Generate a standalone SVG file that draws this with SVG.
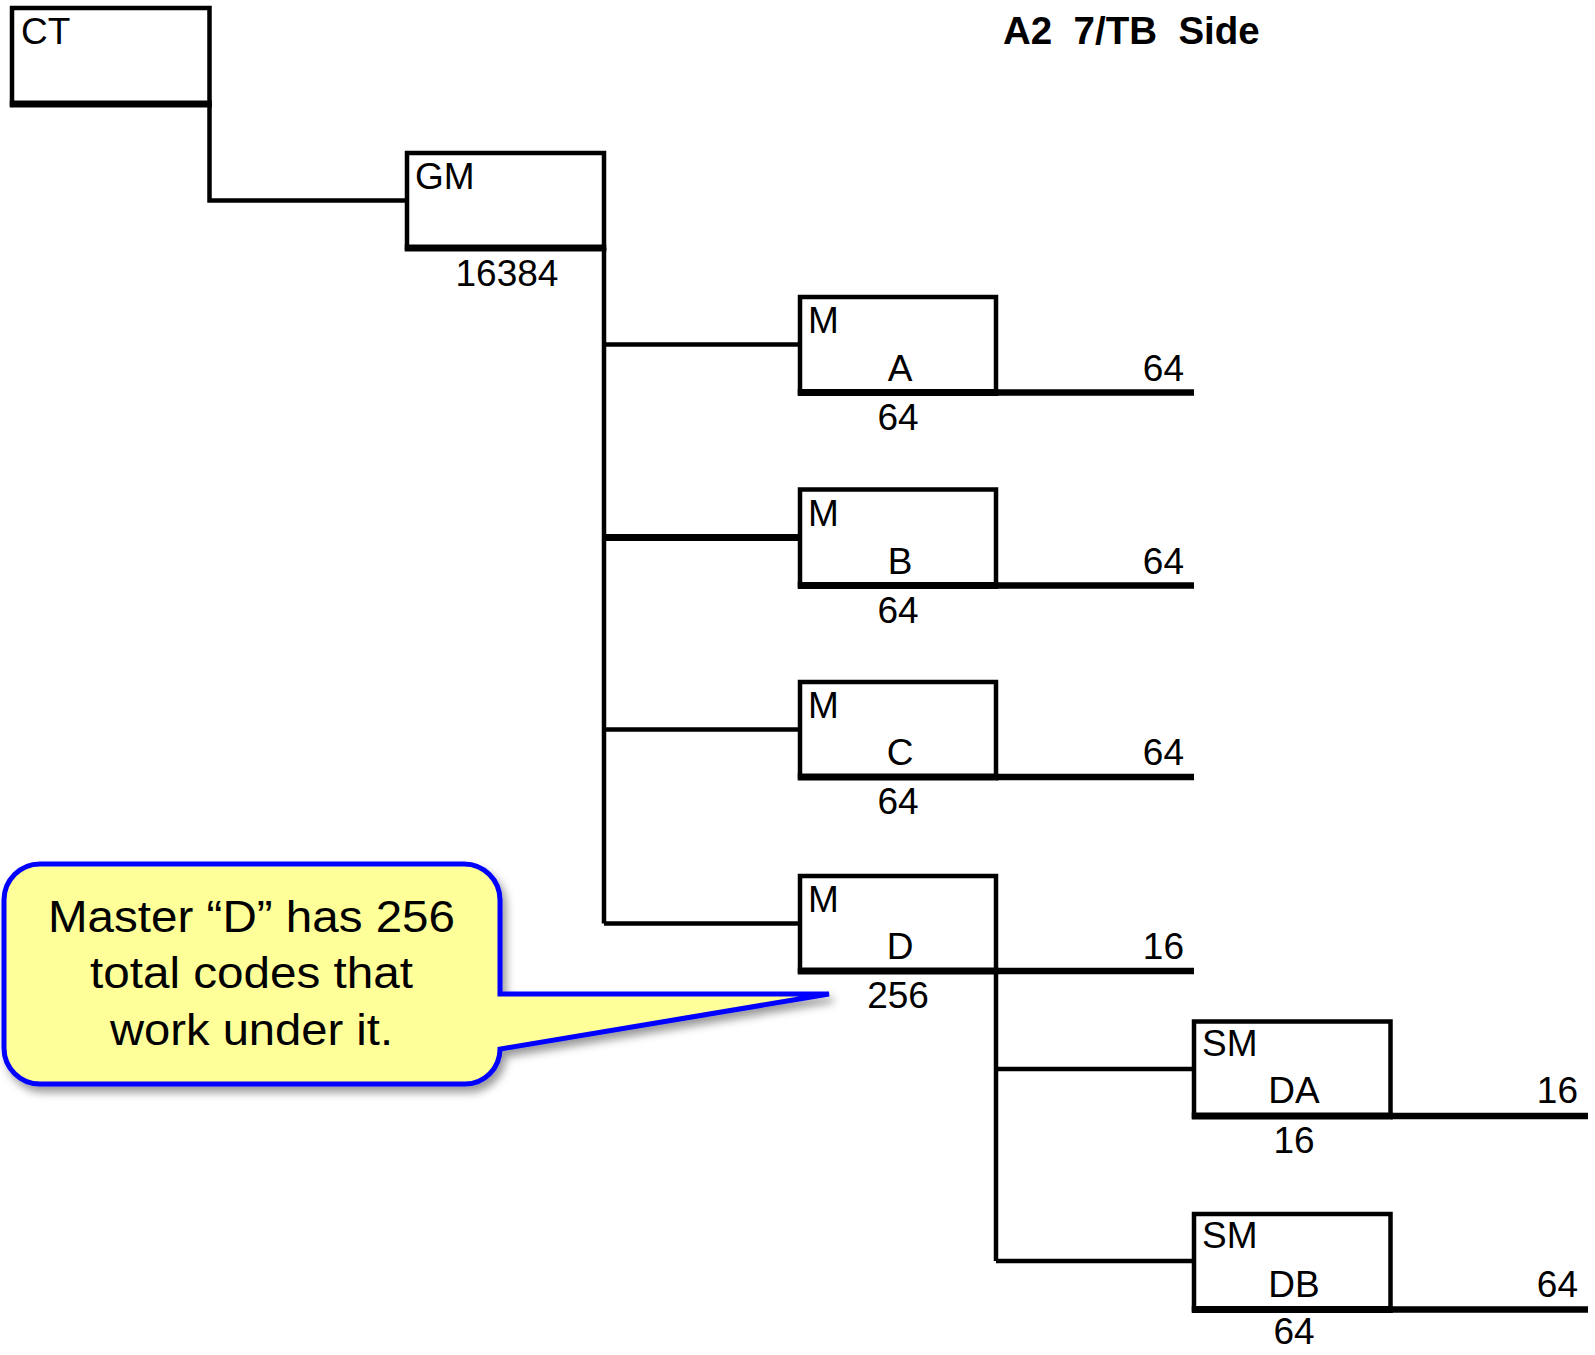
<svg xmlns="http://www.w3.org/2000/svg" width="1595" height="1355" viewBox="0 0 1595 1355">
<defs>
<style>
.box{fill:#fff;stroke:#000;stroke-width:4.5}
.bot{stroke:#000;stroke-width:7;fill:none}
.ln{stroke:#000;stroke-width:4.5;fill:none}
.stub{stroke:#000;stroke-width:6.5;fill:none}
.t{font-family:"Liberation Sans",Arial,sans-serif;font-size:37px;fill:#000}
.m{text-anchor:middle}
.e{text-anchor:end}
.title{font-family:"Liberation Sans",Arial,sans-serif;font-size:38.5px;font-weight:bold;fill:#000}
.call{font-family:"Liberation Sans",Arial,sans-serif;font-size:45px;fill:#000;text-anchor:middle}
</style>
<filter id="sh" x="-10%" y="-10%" width="130%" height="130%">
<feDropShadow dx="4" dy="6" stdDeviation="4" flood-color="#000" flood-opacity="0.4"/>
</filter>
</defs>
<rect width="1595" height="1355" fill="#fff"/>

<text class="title" x="1003" y="44" xml:space="preserve">A2  7/TB  Side</text>

<g id="connectors">
<polyline class="ln" points="209.5,104 209.5,200.5 407,200.5"/>
<line class="ln" x1="604" y1="248" x2="604" y2="923.5"/>
<line class="ln" x1="604" y1="344.5" x2="800" y2="344.5"/>
<line class="ln" x1="604" y1="537.5" x2="800" y2="537.5" style="stroke-width:7"/>
<line class="ln" x1="604" y1="729.5" x2="800" y2="729.5"/>
<line class="ln" x1="604" y1="923.5" x2="800" y2="923.5"/>
<line class="ln" x1="996" y1="971" x2="996" y2="1261"/>
<line class="ln" x1="996" y1="1069" x2="1194" y2="1069"/>
<line class="ln" x1="996" y1="1261" x2="1194" y2="1261"/>
<line class="stub" x1="996" y1="392.5" x2="1194" y2="392.5"/>
<line class="stub" x1="996" y1="585.5" x2="1194" y2="585.5"/>
<line class="stub" x1="996" y1="777" x2="1194" y2="777"/>
<line class="stub" x1="996" y1="971" x2="1194" y2="971"/>
<line class="stub" x1="1390.5" y1="1116" x2="1588" y2="1116"/>
<line class="stub" x1="1390.5" y1="1309.5" x2="1588" y2="1309.5"/>
</g>

<g id="node-CT">
<rect class="box" x="12" y="8" width="197.5" height="96"/>
<line class="bot" x1="9.75" y1="104" x2="211.75" y2="104"/>
<text class="t" x="21" y="44">CT</text>
</g>

<g id="node-GM">
<rect class="box" x="407" y="153" width="197" height="95"/>
<line class="bot" x1="404.75" y1="248" x2="606.25" y2="248"/>
<text class="t" x="415" y="189">GM</text>
<text class="t m" x="507" y="286">16384</text>
</g>

<g id="node-MA">
<rect class="box" x="800" y="297" width="196" height="95.5"/>
<line class="bot" x1="797.75" y1="392.5" x2="998.25" y2="392.5"/>
<text class="t" x="808" y="333">M</text>
<text class="t m" x="900" y="380.5">A</text>
<text class="t e" x="1184" y="380.5">64</text>
<text class="t m" x="898" y="430">64</text>
</g>

<g id="node-MB">
<rect class="box" x="800" y="489.5" width="196" height="96"/>
<line class="bot" x1="797.75" y1="585.5" x2="998.25" y2="585.5"/>
<text class="t" x="808" y="525.5">M</text>
<text class="t m" x="900" y="573.5">B</text>
<text class="t e" x="1184" y="573.5">64</text>
<text class="t m" x="898" y="623">64</text>
</g>

<g id="node-MC">
<rect class="box" x="800" y="682" width="196" height="95"/>
<line class="bot" x1="797.75" y1="777" x2="998.25" y2="777"/>
<text class="t" x="808" y="718">M</text>
<text class="t m" x="900" y="765">C</text>
<text class="t e" x="1184" y="765">64</text>
<text class="t m" x="898" y="814">64</text>
</g>

<g id="node-MD">
<rect class="box" x="800" y="876" width="196" height="95"/>
<line class="bot" x1="797.75" y1="971" x2="998.25" y2="971"/>
<text class="t" x="808" y="912">M</text>
<text class="t m" x="900" y="959">D</text>
<text class="t e" x="1184" y="959">16</text>
<text class="t m" x="898" y="1008">256</text>
</g>

<g id="node-SMDA">
<rect class="box" x="1194" y="1021.5" width="196.5" height="94.5"/>
<line class="bot" x1="1191.75" y1="1116" x2="1392.75" y2="1116"/>
<text class="t" x="1202" y="1055.5">SM</text>
<text class="t m" x="1294" y="1103">DA</text>
<text class="t e" x="1578" y="1103">16</text>
<text class="t m" x="1294" y="1153">16</text>
</g>

<g id="node-SMDB">
<rect class="box" x="1194" y="1214" width="196.5" height="95.5"/>
<line class="bot" x1="1191.75" y1="1309.5" x2="1392.75" y2="1309.5"/>
<text class="t" x="1202" y="1248">SM</text>
<text class="t m" x="1294" y="1297">DB</text>
<text class="t e" x="1578" y="1297">64</text>
<text class="t m" x="1294" y="1344">64</text>
</g>

<g id="callout">
<path d="M 40,864 H 464 A 36 36 0 0 1 500,900 V 994 H 829 L 500,1049 A 35 35 0 0 1 465,1084 H 40 A 36 36 0 0 1 4,1048 V 900 A 36 36 0 0 1 40,864 Z" fill="#FFFF99" stroke="#0000FF" stroke-width="5" stroke-linejoin="miter" filter="url(#sh)"/>
<text class="call" x="251.5" y="932" textLength="407" lengthAdjust="spacingAndGlyphs">Master “D” has 256</text>
<text class="call" x="251.5" y="988" textLength="323" lengthAdjust="spacingAndGlyphs">total codes that</text>
<text class="call" x="251.5" y="1045" textLength="283" lengthAdjust="spacingAndGlyphs">work under it.</text>
</g>
</svg>
